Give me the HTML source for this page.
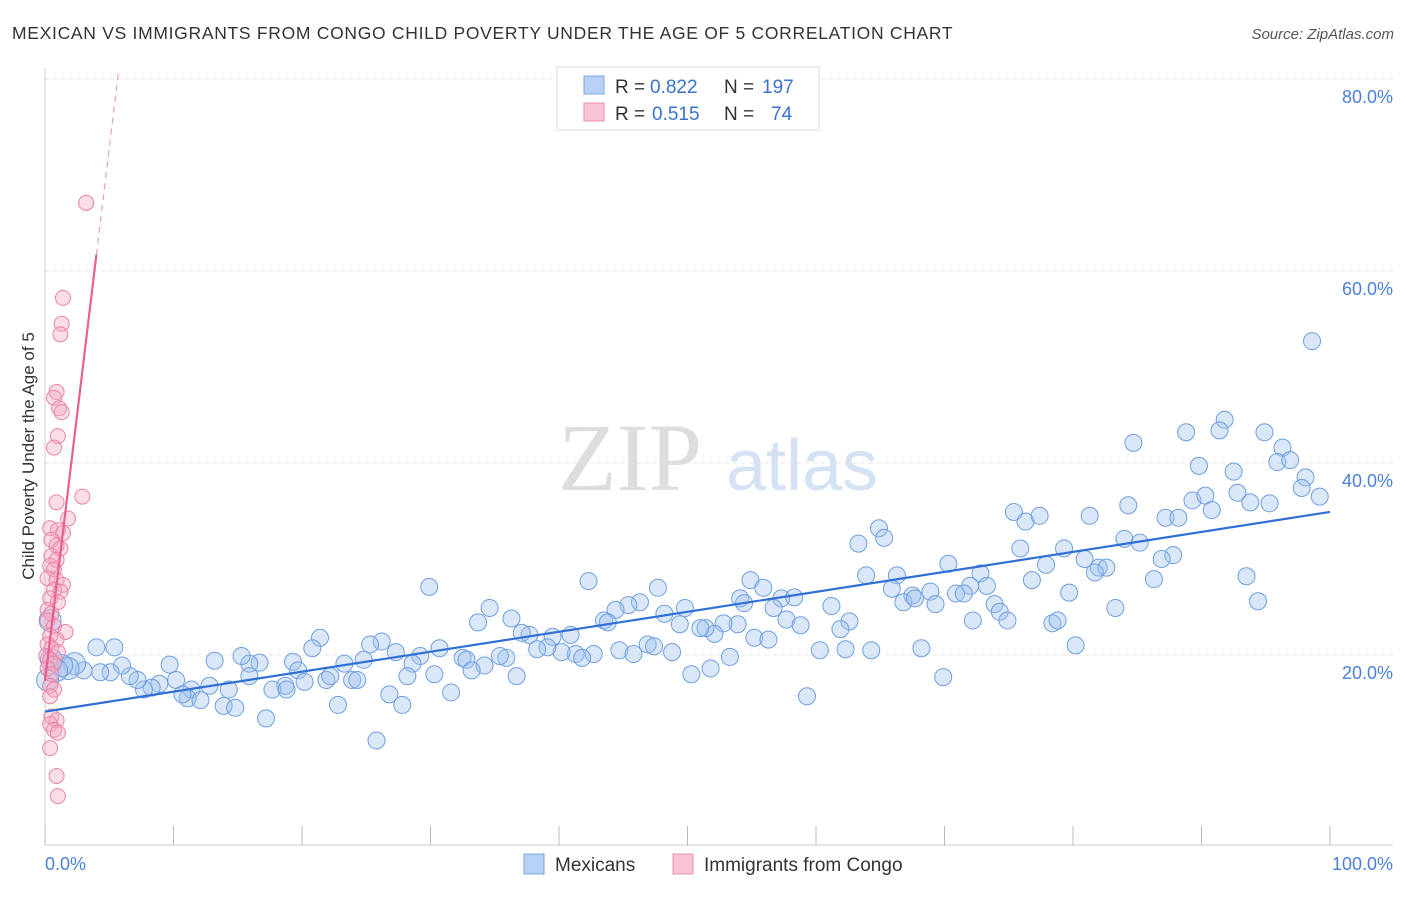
<!DOCTYPE html>
<html><head><meta charset="utf-8"><style>
body{margin:0;background:#fff;font-family:"Liberation Sans",sans-serif}
</style></head><body>
<svg id="c" width="1406" height="892" xmlns="http://www.w3.org/2000/svg">
<text x="12" y="39" font-size="17.5" letter-spacing="0.7" fill="#333">MEXICAN VS IMMIGRANTS FROM CONGO CHILD POVERTY UNDER THE AGE OF 5 CORRELATION CHART</text>
<text x="1394" y="39" font-size="15" fill="#555" font-style="italic" text-anchor="end">Source: ZipAtlas.com</text>
<text x="630" y="490" font-size="96" fill="#ddd" font-family="Liberation Serif,serif" text-anchor="middle">ZIP</text>
<text x="802" y="490" font-size="72" fill="#d4e2f4" text-anchor="middle">atlas</text>
<g id="grid"></g><g id="axes"></g><g id="pts"></g><g id="lines"></g>
<text transform="translate(34,456) rotate(-90)" font-size="17" fill="#333" text-anchor="middle">Child Poverty Under the Age of 5</text>
<g>
<rect x="557" y="67" width="262" height="63" fill="#fff" stroke="#ddd"/>
<rect x="584" y="76" width="20" height="18" fill="#b7d0f3" stroke="#7aa7e0"/>
<rect x="584" y="103" width="20" height="18" fill="#f8c3d3" stroke="#e88fae"/>
<text x="615" y="93" font-size="19" fill="#333">R =</text>
<text x="650" y="93" font-size="19" fill="#3a72d0">0.822</text>
<text x="724" y="93" font-size="19" fill="#333">N =</text>
<text x="762" y="93" font-size="19" fill="#3a72d0">197</text>
<text x="615" y="120" font-size="19" fill="#333">R =</text>
<text x="652" y="120" font-size="19" fill="#3a72d0">0.515</text>
<text x="724" y="120" font-size="19" fill="#333">N =</text>
<text x="771" y="120" font-size="19" fill="#3a72d0">74</text>
</g>
<g>
<rect x="524" y="854" width="20" height="20" fill="#b7d0f3" stroke="#7aa7e0"/>
<text x="555" y="871" font-size="19" fill="#333">Mexicans</text>
<rect x="673" y="854" width="20" height="20" fill="#f8c3d3" stroke="#e88fae"/>
<text x="704" y="871" font-size="19" fill="#333">Immigrants from Congo</text>
</g>
</svg>
<script>
const yTicks=[20,40,60,80];
const yTickLabels=["20.0%","40.0%","60.0%","80.0%"];
const xEndLabels=["0.0%","100.0%"];
const blueX=[98.6,84.7,88.8,91.8,91.4,94.9,96.3,95.9,96.9,89.8,92.5,98.1,97.8,99.2,92.8,93.8,95.3,89.3,90.3,90.8,87.2,88.2,84.3,81.3,75.4,76.3,77.4,84.0,85.2,87.8,86.9,79.3,80.9,75.9,82.0,82.6,81.7,86.3,77.9,76.8,79.7,83.3,93.5,94.4,64.9,63.3,65.3,70.3,72.8,63.9,66.3,72.0,73.3,65.9,67.5,68.9,70.9,71.5,66.8,67.7,69.3,73.9,74.3,74.9,72.2,78.4,78.8,80.2,68.2,69.9,64.3,62.3,62.6,61.9,61.2,60.3,59.3,54.9,55.9,57.3,58.3,56.7,57.7,58.8,54.1,54.4,53.9,52.8,52.1,51.4,51.0,55.2,56.3,53.3,51.8,50.3,49.8,49.4,48.2,47.7,46.3,45.4,44.4,43.5,42.3,43.8,44.7,45.8,46.9,47.4,48.8,42.7,41.3,41.8,40.2,40.9,39.5,39.1,38.3,37.7,37.1,36.3,34.6,33.7,34.2,35.9,35.4,36.7,32.5,32.8,33.2,30.7,30.3,31.6,29.9,29.2,28.6,27.3,28.2,26.2,25.3,24.8,26.8,27.8,25.8,23.3,23.9,24.3,22.8,21.4,20.8,19.3,19.7,20.2,21.9,22.2,18.7,17.7,18.8,17.2,16.7,15.9,15.3,15.9,13.2,12.8,14.3,13.9,14.8,11.4,11.1,12.1,9.7,10.2,10.7,8.9,8.3,7.7,7.2,6.6,6.0,5.4,5.1,4.3,4.0,3.0,2.3,1.8,1.3,0.9,0.4,0.5,0.2];
const blueY=[52.7,42.1,43.2,44.5,43.4,43.2,41.6,40.1,40.3,39.7,39.1,38.5,37.4,36.5,36.9,35.9,35.8,36.1,36.6,35.1,34.3,34.3,35.6,34.5,34.9,33.9,34.5,32.1,31.7,30.4,30.0,31.1,30.0,31.1,29.1,29.1,28.6,27.9,29.4,27.8,26.5,24.9,28.2,25.6,33.2,31.6,32.2,29.5,28.5,28.3,28.3,27.2,27.2,26.9,26.2,26.6,26.4,26.4,25.5,25.9,25.3,25.3,24.5,23.6,23.6,23.3,23.6,21.0,20.7,17.7,20.5,20.6,23.5,22.7,25.1,20.5,15.7,27.8,27.0,25.9,26.0,24.9,23.7,23.1,25.9,25.4,23.2,23.3,22.2,22.8,22.8,21.8,21.6,19.8,18.6,18.0,24.9,23.2,24.3,27.0,25.5,25.2,24.7,23.6,27.7,23.4,20.5,20.1,21.1,20.9,20.3,20.1,20.1,19.7,20.3,22.1,21.9,20.8,20.6,22.1,22.3,23.8,24.9,23.4,18.9,19.7,19.9,17.8,19.7,19.5,18.4,20.7,18.0,16.1,27.1,19.9,19.1,20.3,17.8,21.4,21.1,19.5,15.9,14.8,11.1,19.1,17.4,17.4,14.8,21.8,20.7,19.3,18.4,17.2,17.4,17.8,16.8,16.4,16.4,13.4,19.2,19.1,19.9,17.8,19.4,16.8,16.4,14.7,14.5,16.4,15.5,15.3,19.0,17.4,15.9,17.0,16.6,16.4,17.4,17.8,18.9,20.8,18.2,18.2,20.8,18.4,19.1,18.6,18.9,18.4,23.6,19.5,17.4];
const pinkX=[3.2,1.4,1.3,1.2,0.9,0.7,1.1,1.3,1.0,0.7,2.9,0.9,1.8,0.4,1.0,1.4,0.5,0.9,1.2,0.5,0.9,0.4,0.7,0.2,0.9,1.4,0.7,1.2,0.4,1.0,0.2,0.5,0.2,0.7,1.6,0.4,0.9,0.2,0.5,1.0,0.1,0.4,0.7,0.2,0.5,0.4,0.7,0.4,0.5,0.9,0.4,0.7,1.0,0.4,0.9,1.0];
const pinkY=[67.1,57.2,54.5,53.4,47.4,46.8,45.7,45.3,42.8,41.6,36.5,35.9,34.2,33.2,33.0,32.7,32.0,31.4,31.1,30.3,29.9,29.3,28.9,28.0,27.8,27.3,26.8,26.6,25.9,25.5,24.7,24.3,23.6,23.0,22.4,22.0,21.6,21.1,20.7,20.3,19.9,19.5,19.1,18.6,18.0,16.8,16.4,15.7,13.6,13.2,12.8,12.2,11.9,10.3,7.4,5.3];
const blueTrend=[14.1,34.9];
const pinkTrend=[17.3,11.1];
const NS="http://www.w3.org/2000/svg";
const X=v=>45+v*12.85, Y=v=>847-v*9.6;
function mk(t,a,p){const e=document.createElementNS(NS,t);for(const k in a)e.setAttribute(k,a[k]);document.getElementById(p).appendChild(e);return e;}
yTicks.forEach((t,i)=>{
 const l=mk('line',{x1:45,x2:1393,y1:Y(t),y2:Y(t),stroke:'#e4e4e4','stroke-dasharray':'4,4'},'grid');
 
 
 const tx=mk('text',{x:1393,y:Y(t)+24,'font-size':18,fill:'#4a80d6','text-anchor':'end'},'grid');
 tx.textContent=yTickLabels[i];
 
 
});
const ax=mk('line',{x1:45,x2:1393,y1:845,y2:845,stroke:'#ccc'},'axes');


const ay=mk('line',{x1:45,x2:45,y1:68,y2:845,stroke:'#ccc'},'axes');


for(let k=0;k<=10;k++){const t=mk('line',{x1:X(k*10),x2:X(k*10),y1:826,y2:845,stroke:'#bbb'},'axes');
 
 }
[[0,'start',45],[1,'end',1393]].forEach(([i,a,x])=>{const t=mk('text',{x:x,y:870,'font-size':18,fill:'#4a80d6','text-anchor':a},'axes');t.textContent=xEndLabels[i];
 
 });
blueX.forEach((x,i)=>{const big=x<8&&i>185;const c=mk('circle',{cx:X(x),cy:Y(blueY[i]),r:big?11:8.5,fill:'rgba(160,195,240,0.4)',stroke:'#6f9fe0','stroke-width':1},'pts');
 
 });
pinkX.forEach((x,i)=>{const c=mk('circle',{cx:X(x),cy:Y(pinkY[i]),r:7.5,fill:'rgba(245,170,195,0.4)',stroke:'#e983a6','stroke-width':1},'pts');
 
 });
const bl=mk('line',{x1:X(0),y1:Y(blueTrend[0]),x2:X(100),y2:Y(blueTrend[1]),stroke:'#2f6fd6','stroke-width':2.2},'lines');


const pl=mk('line',{x1:X(0),y1:Y(pinkTrend[0]),x2:X(4),y2:Y(pinkTrend[0]+4*pinkTrend[1]),stroke:'#e8608e','stroke-width':2.2},'lines');


const pd=mk('line',{x1:X(4),y1:Y(pinkTrend[0]+4*pinkTrend[1]),x2:X(5.7),y2:Y(pinkTrend[0]+5.7*pinkTrend[1]),stroke:'#e8a0b8','stroke-width':1.2,'stroke-dasharray':'6,5'},'lines');


</script>
</body></html>
